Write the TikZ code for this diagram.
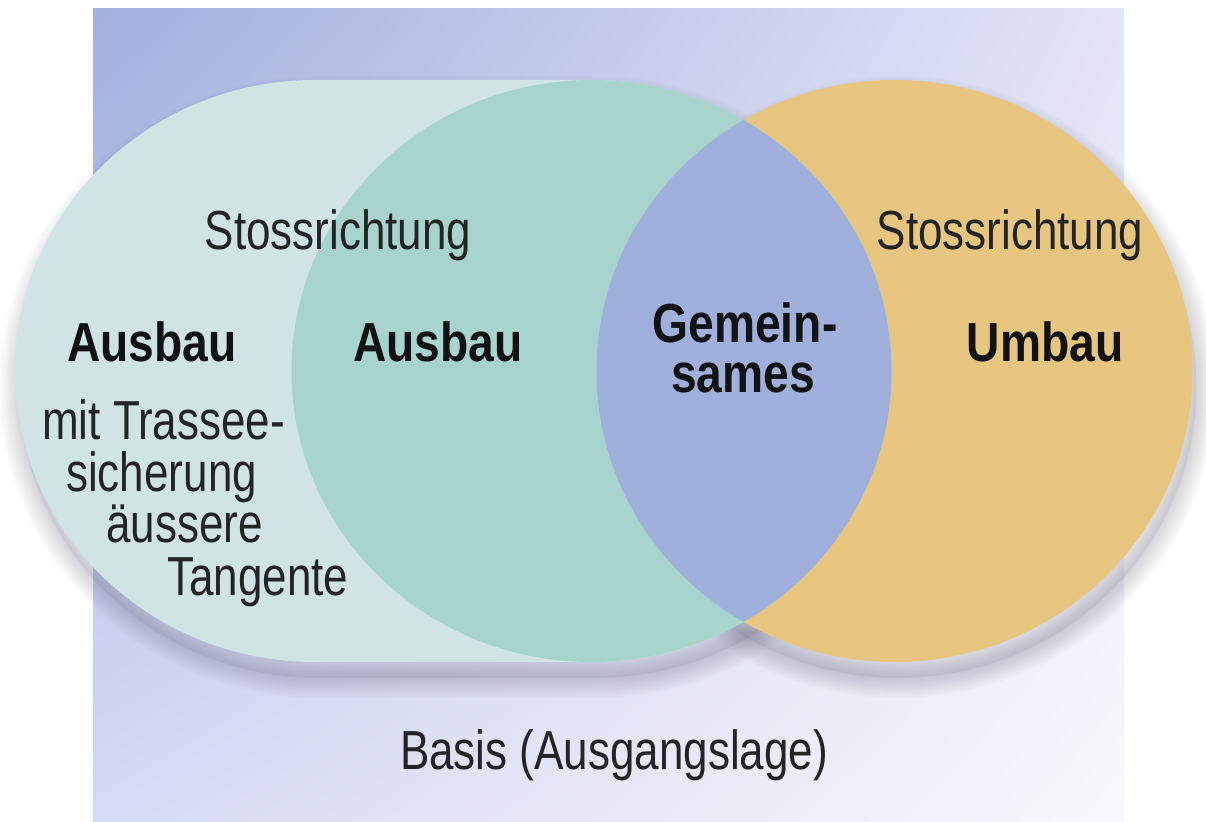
\documentclass[tikz,border=0pt]{standalone}
\usepackage{fontspec}
\usetikzlibrary{shadings}
\setmainfont{Liberation Sans}
\newfontfamily\labelfont{Liberation Sans}[FakeStretch=0.8]
\newfontfamily\headfont{Liberation Sans}[FakeStretch=0.84]
\definecolor{bgA}{RGB}{163,176,222}
\definecolor{bgB}{RGB}{226,228,246}
\definecolor{bgC}{RGB}{214,218,242}
\definecolor{bgD}{RGB}{248,248,252}
\definecolor{mintlight}{RGB}{208,228,228}
\definecolor{mintmid}{RGB}{168,212,206}
\definecolor{lensblue}{RGB}{160,176,220}
\definecolor{ochre}{RGB}{232,198,128}
\definecolor{textgray}{RGB}{34,36,38}
\definecolor{textblack}{RGB}{18,18,20}
\definecolor{shadowtone}{RGB}{60,58,80}
\begin{document}
\begin{tikzpicture}[x=1pt,y=1pt,
  stadium path/.style={insert path={(315,741) arc[start angle=90,end angle=270,x radius=300,y radius=291] -- (591.5,159) arc[start angle=-90,end angle=90,x radius=300,y radius=291] -- cycle}},
  mid path/.style={insert path={(591.5,450) ellipse[x radius=300,y radius=291]}},
  ochre path/.style={insert path={(894.5,450) ellipse[x radius=298,y radius=291]}},
  shade layer/.style={draw=shadowtone, fill=none, line width=#1, draw opacity=0.02, line join=round},
  lbl/.style={font=\labelfont\fontsize{55}{60}\selectfont, text=textgray, inner sep=0pt},
  head/.style={font=\headfont\bfseries\fontsize{55}{60}\selectfont, text=textblack, inner sep=0pt}]
  \useasboundingbox (0,0) rectangle (1206,821);
  \fill[white] (0,0) rectangle (1206,821);
  % backdrop panel with diagonal gradient
  \shade[upper left=bgA, upper right=bgB, lower left=bgC, lower right=bgD]
    (93,0) rectangle (1124,812);
  % soft shadows under the shapes
  \begin{scope}[shift={(4,-16)}]
    \foreach \w in {40,36,32,28,24,20,16,12,8,4}{
      \path[shade layer=\w, stadium path];
      \path[shade layer=\w, ochre path];
    }
    \fill[shadowtone, opacity=0.08, stadium path];
    \fill[shadowtone, opacity=0.08, ochre path];
  \end{scope}
  % the three areas and their overlap
  \fill[mintlight, stadium path];
  \fill[ochre, ochre path];
  \fill[mintmid, mid path];
  \begin{scope}
    \clip[ochre path];
    \fill[lensblue, mid path];
  \end{scope}
  % labels
  \node[lbl, anchor=base] (stossL) at (338,571) {Stossrichtung};
  \node[lbl, anchor=base] (stossR) at (1010,571) {Stossrichtung};
  \node[head, anchor=base] (ausbauL) at (152,459) {Ausbau};
  \node[head, anchor=base] (ausbauM) at (438,459) {Ausbau};
  \node[head, anchor=base] (gemein) at (745,478) {Gemein-};
  \node[head, anchor=base] (sames) at (743,428) {sames};
  \node[head, anchor=base] (umbau) at (1045,459) {Umbau};
  \node[lbl, anchor=base west] (trasse1) at (42,381) {mit Trassee-};
  \node[lbl, anchor=base west] (trasse2) at (66,329) {sicherung};
  \node[lbl, anchor=base west] (trasse3) at (106,278) {äussere};
  \node[lbl, anchor=base west] (trasse4) at (167,225) {Tangente};
  \node[lbl, anchor=base] (basis) at (614,51) {Basis (Ausgangslage)};
\end{tikzpicture}
\end{document}
